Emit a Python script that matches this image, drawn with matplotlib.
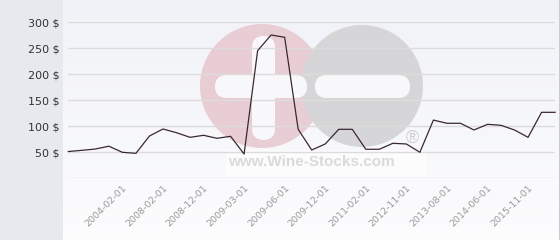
# price history chart (wine-stocks style)

import numpy as np
import matplotlib.pyplot as plt
from matplotlib.patches import Circle, FancyBboxPatch, Rectangle
from matplotlib.transforms import ScaledTranslation

# values

prices = [51.5, 53.8, 56.3, 61.7, 50.0, 48.0, 81.3, 94.8, 87.7, 78.8,
          82.7, 76.9, 80.8, 46.7, 245.4, 275.6, 271.2, 94.2, 54.4, 66.0,
          94.2, 94.2, 55.8, 55.8, 67.3, 66.0, 50.0, 112.0, 105.8, 105.8,
          92.9, 103.8, 101.9, 92.9, 78.8, 126.9, 126.9]

tick_positions = [4, 7, 10, 13, 16, 19, 22, 25, 28, 31, 34]
tick_labels = ['2004-02-01', '2008-02-01', '2008-12-01', '2009-03-01',
               '2009-06-01', '2009-12-01', '2011-02-01', '2012-11-01',
               '2013-08-01', '2014-06-01', '2015-11-01']

y_ticks = [0, 50, 100, 150, 200, 250, 300]
y_labels = ['' if v == 0 else f'{v} $' for v in y_ticks]

W, H = 560, 240
fig = plt.figure(figsize=(W/100, H/100), dpi=100)
fig.patch.set_facecolor('#e6e9ed')

# plot area background with a soft gradient

bg = fig.add_axes([63/W, 0, 496/W, 1], zorder=0)
grad = np.linspace(0, 1, 100).reshape(-1, 1)
top = np.array([0.945, 0.950, 0.970])
bottom = np.array([0.990, 0.990, 0.995])
img = top + (bottom - top) * grad[..., None]
bg.imshow(img, aspect='auto', extent=[0, 1, 0, 1], origin='upper')
bg.axis('off')

# right border line
fig.add_artist(Rectangle((559/W, 0), 1/W, 1, transform=fig.transFigure,
                         color='#c8ccd2', lw=0))

# watermark in pixel coords

wm = fig.add_axes([0, 0, 1, 1], zorder=1)
wm.set_xlim(0, W)
wm.set_ylim(H, 0)
wm.axis('off')
wm.patch.set_alpha(0)

wm.add_patch(FancyBboxPatch((226, 150), 201, 27,
                            boxstyle='round,pad=0,rounding_size=3',
                            fc='white', ec='none', alpha=0.6))
wm.add_patch(Circle((262, 86), 62, fc='#e9cdd4', ec='none'))
wm.add_patch(Circle((362, 86), 61, fc='#d6d6d8', ec='none'))
wm.add_patch(FancyBboxPatch((215, 75), 92, 23,
                            boxstyle='round,pad=0,rounding_size=11.5',
                            fc='#f8f8fa', ec='none'))
wm.add_patch(FancyBboxPatch((252, 36), 23, 104,
                            boxstyle='round,pad=0,rounding_size=11.5',
                            fc='#f8f8fa', ec='none'))
wm.add_patch(FancyBboxPatch((315, 75), 95, 23,
                            boxstyle='round,pad=0,rounding_size=11.5',
                            fc='#f8f8fa', ec='none'))
wm.text(311, 162, 'www.Wine-Stocks.com', ha='center', va='center',
        fontsize=11, fontweight='bold', color='#dadada',
        family='Liberation Sans')
wm.text(412, 138, '\u00ae', ha='center', va='center', fontsize=13,
        color='#cfcfd2', family='Liberation Sans')

# main chart

ax = fig.add_axes([68.3/W, (H-178.3)/H, (555.1-68.3)/W, 156/H], zorder=2)
ax.patch.set_alpha(0)

x = np.arange(len(prices))
ax.plot(x, prices, color='#3a2830', lw=0.9, clip_on=False, zorder=3)

ax.set_xlim(0, len(prices) - 1)
ax.set_ylim(0, 300)

ax.set_yticks(y_ticks)
ax.set_yticklabels(y_labels, fontsize=8, color='#333333')
ax.yaxis.grid(True, color='#dcdcdc', lw=1)
ax.set_axisbelow(True)

ax.set_xticks(tick_positions)
ax.set_xticklabels(tick_labels, rotation=45, ha='right', va='top',
                   rotation_mode='anchor', fontsize=6.8, color='#9a9a9a')
offset = ScaledTranslation(8/100, -13/100, fig.dpi_scale_trans)
for label in ax.get_xticklabels():
    label.set_transform(label.get_transform() + offset)

for s in ax.spines.values():
    s.set_visible(False)
ax.tick_params(axis='both', which='both', length=0)
ax.tick_params(axis='y', pad=6.5)

fig.savefig('out.png', dpi=100, facecolor=fig.get_facecolor())
